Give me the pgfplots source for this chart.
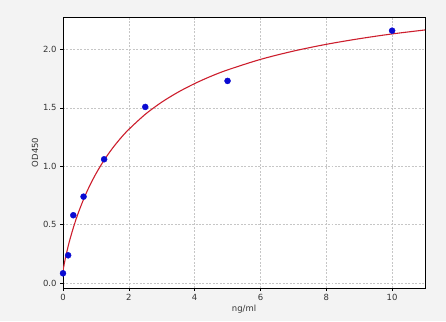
\documentclass[border=0pt]{standalone}
\usepackage{fontspec}
\setmainfont{DejaVu Sans}
\usepackage{pgfplots}
\pgfplotsset{compat=1.18}
\definecolor{bgc}{RGB}{243,243,243}
\definecolor{ptc}{RGB}{10,10,210}
\definecolor{crv}{RGB}{205,30,45}
\begin{document}
\begin{tikzpicture}[x=1bp,y=1bp]
\fill[bgc] (0,0) rectangle (446,321);
\useasboundingbox (0,0) rectangle (446,321);
\begin{axis}[
  at={(63bp,33bp)}, anchor=south west,
  scale only axis, width=362bp, height=271bp,
  xmin=0, xmax=11, ymin=-0.043, ymax=2.277,
  axis background/.style={fill=white},
  xtick={0,2,4,6,8,10},
  ytick={0,0.5,1.0,1.5,2.0},
  yticklabel style={/pgf/number format/.cd,fixed,fixed zerofill,precision=1},
  /pgf/number format/assume math mode=true,
  tick label style={font=\fontsize{8.5}{10}\selectfont, text=black!80},
  label style={font=\fontsize{8.5}{10}\selectfont, text=black!80},
  xlabel={ng/ml}, ylabel={OD450},
  xlabel style={yshift=3pt},
  ylabel style={yshift=-2pt},
  tick align=outside, tick pos=left,
  major tick length=3bp,
  every tick/.style={black, line width=0.5pt},
  grid=major,
  major grid style={gray!45, dash pattern=on 2pt off 1.5pt, line width=0.4pt},
  axis line style={black, line width=0.6pt},
]
\addplot[crv, line width=1.1pt, smooth] coordinates {
(0,0.100) (0.02,0.136) (0.05,0.181) (0.1,0.247) (0.156,0.313) (0.2,0.362)
(0.3,0.460) (0.4,0.548) (0.5,0.627) (0.65,0.733) (0.8,0.826) (1.0,0.935)
(1.25,1.052) (1.5,1.152) (1.75,1.239) (2,1.315) (2.5,1.444) (3,1.548)
(3.5,1.634) (4,1.707) (4.5,1.770) (5,1.824) (6,1.914) (7,1.985)
(8,2.043) (9,2.091) (10,2.132) (11,2.166)
};
\addplot[only marks, mark=*, mark size=3bp, mark options={fill=ptc, draw=ptc}] coordinates {
(0,0.083) (0.156,0.237) (0.3125,0.580) (0.625,0.739) (1.25,1.059) (2.5,1.507) (5,1.730) (10,2.160)
};
\end{axis}
\end{tikzpicture}
\end{document}
